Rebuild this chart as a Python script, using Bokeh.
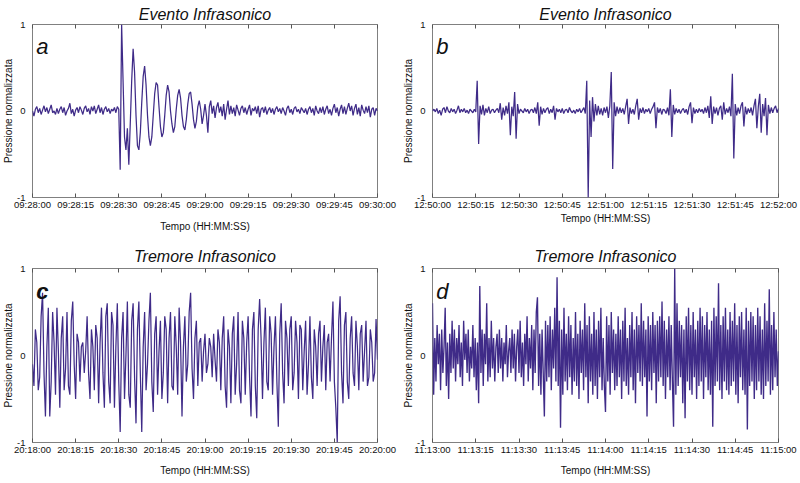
import numpy as np
from bokeh.plotting import figure
from bokeh.models import Range1d, FixedTicker, LinearAxis, Label
from bokeh.layouts import column, row
from bokeh.embed import file_html
from bokeh.resources import INLINE

# ---------------- data ----------------
SPAN_S = 120  # each record covers two minutes
x_ticks = [0, 15, 30, 45, 60, 75, 90, 105, 120]
labels_a = ["09:28:00", "09:28:15", "09:28:30", "09:28:45", "09:29:00",
            "09:29:15", "09:29:30", "09:29:45", "09:30:00"]
labels_b = ["12:50:00", "12:50:15", "12:50:30", "12:50:45", "12:51:00",
            "12:51:15", "12:51:30", "12:51:45", "12:52:00"]
labels_c = ["20:18:00", "20:18:15", "20:18:30", "20:18:45", "20:19:00",
            "20:19:15", "20:19:30", "20:19:45", "20:20:00"]
labels_d = ["11:13:00", "11:13:15", "11:13:30", "11:13:45", "11:14:00",
            "11:14:15", "11:14:30", "11:14:45", "11:15:00"]
y_ticks = [-1, 0, 1]
y_tick_labels = ["-1", "0", "1"]
titles = ["Evento Infrasonico", "Evento Infrasonico",
          "Tremore Infrasonico", "Tremore Infrasonico"]
letters = ["a", "b", "c", "d"]
x_axis_label = "Tempo (HH:MM:SS)"
y_axis_label = "Pressione normalizzata"

# normalised pressure, panel a (0.5 s steps)
pressure_a = [
    0.00, -0.06, 0.02, 0.05, -0.02, 0.03, -0.04, 0.01, 0.06, -0.01,
    0.04, -0.03, 0.02, 0.07, -0.02, 0.00, -0.04, 0.03, -0.03, 0.02,
    0.05, -0.02, 0.04, -0.05, 0.00, 0.03, 0.09, -0.03, 0.02, -0.06,
    0.01, 0.04, -0.02, 0.05, 0.01, -0.04, 0.03, 0.06, -0.01, 0.03,
    -0.04, 0.05, 0.00, 0.06, -0.03, 0.02, 0.07, -0.02, 0.04, -0.04,
    0.02, 0.05, -0.01, 0.03, -0.03, 0.02, 0.00, 0.04, -0.02, 0.05,
    0.02, -0.68, 1.00, 0.35, -0.30, -0.45, -0.20, -0.62, -0.15, 0.35,
    0.72, 0.45, -0.05, -0.40, -0.45, -0.25, 0.10, 0.40, 0.52, 0.30,
    -0.05, -0.30, -0.40, -0.30, -0.05, 0.20, 0.33, 0.30, 0.05, -0.18,
    -0.30, -0.25, -0.05, 0.18, 0.30, 0.22, 0.00, -0.15, -0.25, -0.18,
    0.02, 0.18, 0.25, 0.15, -0.05, -0.18, -0.22, -0.10, 0.08, 0.20,
    0.22, 0.08, -0.10, -0.20, -0.12, 0.05, 0.12, 0.02, -0.15, -0.05,
    0.08, -0.05, -0.25, 0.05, 0.12, -0.03, 0.06, -0.08, 0.04, 0.10,
    -0.02, 0.05, -0.06, 0.08, -0.10, 0.02, 0.12, -0.04, 0.06, -0.03,
    0.04, -0.06, 0.07, 0.01, -0.05, 0.03, 0.06, -0.02, 0.04, -0.04,
    0.02, 0.07, -0.05, 0.03, 0.00, 0.05, -0.03, 0.06, -0.07, 0.02,
    0.04, -0.02, 0.05, -0.04, 0.01, 0.04, -0.02, 0.03, -0.04, 0.02,
    0.05, -0.01, 0.03, -0.03, 0.04, 0.00, -0.05, 0.03, 0.06, -0.02,
    0.02, -0.04, 0.03, 0.05, -0.01, 0.02, -0.03, 0.04, 0.01, -0.02,
    0.03, -0.04, 0.02, 0.05, -0.02, 0.03, -0.05, 0.06, 0.00, -0.03,
    0.04, -0.02, 0.05, -0.04, 0.02, 0.06, -0.03, 0.02, -0.05, 0.03,
    0.08, -0.02, 0.04, -0.06, 0.02, 0.07, -0.03, 0.05, -0.04, 0.03,
    0.09, 0.00, 0.06, -0.05, 0.03, 0.08, -0.04, 0.04, -0.06, 0.07,
    0.01, -0.03, 0.05, -0.02, 0.06, -0.07, 0.02, 0.04, -0.05, 0.03,
    0.00,
]

# normalised pressure, panel b (0.5 s steps)
pressure_b = [
    0.00, 0.02, -0.01, 0.03, -0.03, 0.01, -0.05, 0.02, 0.04, -0.02,
    0.05, 0.00, -0.02, 0.03, -0.01, 0.02, -0.03, 0.01, 0.06, -0.02,
    0.02, -0.01, 0.03, -0.02, 0.01, -0.03, 0.02, 0.00, -0.02, 0.02,
    -0.01, 0.35, -0.38, 0.06, -0.04, 0.07, -0.05, 0.03, -0.02, 0.05,
    -0.03, 0.01, 0.02, -0.02, 0.01, 0.03, -0.02, 0.09, -0.10, 0.04,
    -0.05, 0.06, -0.03, 0.10, -0.28, 0.05, -0.06, 0.22, -0.32, 0.08,
    -0.03, 0.02, 0.00, -0.02, 0.03, -0.01, 0.02, -0.03, 0.01, 0.02,
    -0.02, 0.04, -0.03, 0.10, -0.17, 0.05, -0.04, 0.03, -0.02, 0.02,
    0.04, -0.03, 0.02, -0.02, 0.06, -0.10, 0.03, -0.01, 0.02, -0.02,
    0.03, -0.03, 0.01, 0.02, -0.02, 0.04, 0.00, -0.02, 0.01, -0.03,
    0.02, -0.01, 0.03, -0.02, 0.01, 0.04, -0.03, 0.35, -1.00, 0.12,
    -0.30, 0.16, -0.12, 0.08, -0.05, 0.06, -0.04, 0.03, -0.05, 0.04,
    -0.02, 0.05, -0.08, 0.06, 0.45, -0.67, 0.10, -0.06, 0.05, -0.03,
    0.04, -0.02, 0.03, -0.04, 0.05, 0.14, -0.15, 0.04, -0.03, 0.02,
    -0.04, 0.06, 0.14, -0.10, 0.03, -0.02, 0.04, -0.03, 0.02, -0.01,
    0.03, -0.03, 0.02, 0.05, 0.10, -0.20, 0.04, -0.02, 0.03, -0.04,
    0.02, 0.01, -0.03, 0.04, -0.05, 0.25, -0.30, 0.07, -0.04, 0.03,
    -0.02, 0.02, -0.03, 0.01, 0.03, -0.02, 0.02, -0.04, 0.05, 0.10,
    -0.14, 0.04, -0.03, 0.02, -0.02, 0.03, -0.01, 0.02, -0.03, 0.04,
    -0.02, 0.06, -0.08, 0.17, -0.15, 0.05, -0.03, 0.04, -0.05, 0.03,
    0.06, -0.10, 0.10, -0.04, 0.03, -0.02, 0.05, -0.06, 0.43, -0.55,
    0.08, -0.05, 0.04, -0.03, 0.06, 0.10, -0.18, 0.05, -0.04, 0.03,
    -0.02, 0.04, -0.05, 0.06, 0.14, -0.20, 0.05, 0.20, -0.25, 0.08,
    -0.06, 0.15, -0.28, 0.07, -0.03, 0.04, -0.02, 0.03, 0.06, -0.02,
    0.03,
]

# normalised pressure, panel c (0.5 s steps)
pressure_c = [
    -0.10, -0.35, 0.30, 0.15, -0.40, -0.25, 0.45, 0.72, -0.20, -0.70,
    0.10, 0.55, -0.70, -0.30, 0.50, 0.15, -0.45, 0.55, 0.05, -0.60,
    0.20, 0.45, -0.40, -0.15, 0.50, -0.35, -0.45, 0.40, 0.62, -0.10,
    -0.50, 0.25, 0.15, -0.30, 0.10, 0.15, -0.20, 0.05, 0.45, -0.20,
    -0.50, 0.30, 0.10, -0.40, 0.35, 0.20, -0.55, 0.15, 0.55, -0.20,
    -0.60, 0.45, 0.60, -0.30, -0.55, 0.50, 0.35, -0.60, 0.10, 0.60,
    -0.30, -0.88, 0.20, 0.50, -0.50, 0.00, 0.62, -0.45, -0.60, 0.40,
    0.60, -0.25, -0.78, 0.30, 0.62, -0.20, -0.88, 0.10, 0.50, -0.40,
    -0.10, 0.40, 0.72, -0.30, -0.65, 0.25, 0.45, -0.45, 0.05, 0.40,
    -0.50, -0.20, 0.45, 0.30, -0.55, 0.20, 0.50, -0.35, -0.40, 0.45,
    0.10, -0.45, 0.55, 0.15, -0.70, 0.10, 0.45, -0.30, -0.10, 0.50,
    0.72, -0.15, -0.50, 0.20, 0.40, -0.35, 0.15, 0.20, -0.30, 0.05,
    0.25, -0.20, -0.10, 0.20, 0.10, -0.25, 0.25, -0.05, -0.30, 0.30,
    0.15, -0.40, 0.20, 0.45, -0.35, -0.60, 0.30, 0.10, -0.55, 0.25,
    0.45, -0.45, -0.10, 0.50, -0.40, -0.55, 0.40, 0.20, -0.45, 0.15,
    0.45, -0.25, -0.70, 0.30, 0.50, -0.35, -0.72, 0.30, 0.65, 0.20,
    -0.50, 0.15, 0.55, -0.30, -0.40, 0.45, 0.25, -0.45, 0.10, 0.45,
    -0.30, -0.82, 0.25, 0.60, -0.20, -0.55, 0.40, 0.20, -0.35, 0.30,
    0.45, -0.40, -0.20, 0.40, 0.15, -0.50, 0.35, 0.30, -0.40, 0.05,
    0.40, -0.45, -0.10, 0.45, -0.25, -0.50, 0.30, 0.10, -0.35, 0.25,
    0.40, -0.30, 0.10, 0.35, -0.40, 0.15, 0.25, -0.30, 0.20, 0.62,
    -0.30, -0.60, -1.00, 0.40, 0.68, -0.20, -0.55, 0.35, 0.50, -0.30,
    -0.50, 0.20, 0.45, -0.20, -0.35, 0.40, 0.10, -0.40, 0.25, 0.35,
    -0.30, 0.05, 0.40, -0.35, -0.25, 0.30, 0.15, -0.30, -0.20, 0.42,
    -0.05,
]

# normalised pressure, panel d (0.4 s steps)
pressure_d = [
    0.60, -0.45, 0.20, -0.30, 0.35, -0.10, 0.25, -0.40, 0.30, -0.20,
    0.10, 0.55, -0.35, 0.15, -0.50, 0.25, -0.20, 0.40, -0.15, 0.30,
    -0.30, 0.20, -0.10, 0.35, -0.25, 0.15, -0.35, 0.40, -0.05, 0.25,
    -0.20, 0.30, -0.30, 0.10, -0.15, 0.35, -0.25, 0.20, -0.40, 0.15,
    -0.55, 0.80, -0.20, 0.30, -0.35, 0.25, -0.10, 0.60, -0.30, 0.20,
    -0.25, 0.40, -0.15, 0.20, -0.30, 0.10, 0.25, -0.20, 0.30, -0.15,
    0.20, -0.30, 0.15, -0.10, 0.35, -0.25, 0.05, 0.20, -0.20, 0.30,
    -0.15, 0.25, -0.30, 0.10, 0.30, -0.20, 0.40, -0.25, 0.15, -0.35,
    0.25, -0.10, 0.45, -0.30, 0.20, -0.15, 0.35, -0.40, 0.30, -0.20,
    0.50, 0.67, -0.35, 0.25, -0.45, 0.30, -0.20, -0.70, 0.40, -0.30,
    0.35, -0.25, 0.45, -0.40, 0.30, -0.15, 0.55, -0.30, 0.90, -0.35,
    0.40, -0.83, 0.30, -0.45, 0.55, -0.30, 0.25, -0.40, 0.45, -0.25,
    0.35, -0.45, 0.20, -0.30, 0.50, -0.35, 0.25, -0.50, 0.40, -0.20,
    0.30, -0.40, 0.60, -0.25, 0.35, -0.55, 0.45, -0.30, 0.25, -0.45,
    0.50, -0.35, 0.30, -0.50, 0.40, -0.25, 0.55, -0.40, 0.20, -0.35,
    -0.65, 0.45, -0.30, 0.35, -0.45, 0.50, -0.20, 0.30, -0.40, 0.25,
    -0.35, 0.45, -0.25, 0.30, -0.50, 0.40, -0.30, 0.55, -0.35, 0.20,
    -0.45, 0.35, -0.25, 0.50, -0.40, 0.30, -0.55, 0.45, -0.20, 0.35,
    -0.30, 0.60, -0.35, 0.40, -0.25, 0.30, -0.70, 0.45, -0.30, 0.35,
    -0.40, 0.50, -0.20, 0.35, -0.55, 0.40, -0.30, 0.45, -0.25, 0.62,
    -0.35, 0.40, -0.50, 0.30, -0.25, 0.45, -0.40, 0.35, -0.30, -0.82,
    1.00, -0.45, 0.60, -0.35, 0.40, -0.25, 0.35, -0.55, 0.30, -0.72,
    0.45, -0.30, 0.55, -0.40, 0.35, -0.45, 0.50, -0.25, 0.30, -0.50,
    0.40, -0.35, 0.55, -0.30, 0.45, -0.50, 0.35, -0.25, 0.50, -0.40,
    0.30, -0.45, 0.40, -0.82, 0.55, -0.35, 0.45, -0.30, 0.83, -0.40,
    0.35, -0.50, 0.45, -0.30, 0.55, -0.40, 0.30, -0.45, 0.50, -0.35,
    0.40, -0.30, 0.60, -0.45, 0.35, -0.55, 0.45, -0.25, 0.50, -0.40,
    0.30, -0.45, 0.55, -0.85, 0.40, -0.35, 0.50, -0.30, 0.45, -0.50,
    0.35, -0.40, 0.55, -0.30, 0.45, -0.45, 0.30, -0.50, 0.60, -0.35,
    0.40, -0.30, 0.76, -0.45, 0.35, -0.40, 0.50, -0.25, 0.30, -0.35,
    0.05,
]

# ---------------- styling ----------------
FONT = "Liberation Sans"
LINE_COLOR = "#3f2b88"
FRAME_COLOR = "#808080"
TICK_COLOR = "#555555"
TEXT_COLOR = "#111111"


def make_panel(values, tick_labels, title_text, letter, letter_style, lw,
               w, h, bl, br, bt, bb, xlabel_standoff, title_standoff):
    t = np.linspace(0, SPAN_S, len(values))
    p = figure(width=w, height=h, output_backend="svg", toolbar_location=None,
               x_range=Range1d(0, SPAN_S), y_range=Range1d(-1, 1),
               x_axis_type=None, y_axis_type=None,
               min_border_left=bl, min_border_right=br,
               min_border_top=bt, min_border_bottom=bb,
               title=title_text)
    p.title.text_font = FONT
    p.title.text_font_size = "16px"
    p.title.text_font_style = "italic"
    p.title.text_color = TEXT_COLOR
    p.title.align = "center"
    p.title.standoff = title_standoff
    p.outline_line_color = FRAME_COLOR
    p.outline_line_width = 1
    p.background_fill_color = "white"
    p.border_fill_color = "white"
    p.grid.visible = False

    xa = LinearAxis(ticker=FixedTicker(ticks=x_ticks, minor_ticks=[]),
                    major_label_overrides={tk: lb for tk, lb in zip(x_ticks, tick_labels)},
                    axis_label=x_axis_label)
    xa.axis_line_color = None
    xa.major_tick_in = 4
    xa.major_tick_out = 0
    xa.major_tick_line_color = TICK_COLOR
    xa.minor_tick_line_color = None
    xa.major_label_text_font = FONT
    xa.major_label_text_font_size = "9.5px"
    xa.major_label_text_color = TEXT_COLOR
    xa.major_label_standoff = 1
    xa.axis_label_text_font = FONT
    xa.axis_label_text_font_size = "10px"
    xa.axis_label_text_font_style = "normal"
    xa.axis_label_text_color = TEXT_COLOR
    xa.axis_label_standoff = xlabel_standoff
    p.add_layout(xa, "below")

    # mirrored inward ticks along the top of the box (no labels drawn)
    ta = LinearAxis(ticker=FixedTicker(ticks=x_ticks, minor_ticks=[]))
    ta.axis_line_color = None
    ta.major_tick_in = 4
    ta.major_tick_out = 0
    ta.major_tick_line_color = TICK_COLOR
    ta.minor_tick_line_color = None
    ta.major_label_text_font_size = "1px"
    ta.major_label_text_color = None
    ta.major_label_standoff = 0
    p.add_layout(ta, "above")

    ya = LinearAxis(ticker=FixedTicker(ticks=y_ticks, minor_ticks=[]),
                    major_label_overrides={tk: lb for tk, lb in zip(y_ticks, y_tick_labels)},
                    axis_label=y_axis_label)
    ya.axis_line_color = None
    ya.major_tick_line_color = None
    ya.minor_tick_line_color = None
    ya.major_label_text_font = FONT
    ya.major_label_text_font_size = "9.5px"
    ya.major_label_text_color = TEXT_COLOR
    ya.major_label_standoff = 1
    ya.axis_label_text_font = FONT
    ya.axis_label_text_font_size = "10px"
    ya.axis_label_text_font_style = "normal"
    ya.axis_label_text_color = TEXT_COLOR
    ya.axis_label_standoff = 0
    p.add_layout(ya, "left")

    p.line(t, values, line_color=LINE_COLOR, line_width=lw)

    p.add_layout(Label(x=1.3, y=0.74, text=letter, text_font=FONT,
                       text_font_size="22px", text_font_style=letter_style,
                       text_color=TEXT_COLOR, text_baseline="alphabetic"))
    return p


# the page is drawn from its top-left corner: figure pixels = picture pixels
pa = make_panel(pressure_a, labels_a, titles[0], letters[0], "italic", 1.25,
                400, 240, 29, 23, 24, 43, 8, 4)
pb = make_panel(pressure_b, labels_b, titles[1], letters[1], "italic", 1.25,
                400, 240, 31, 22, 24, 43, 0, 4)
pc = make_panel(pressure_c, labels_c, titles[2], letters[2], "bold italic", 1.25,
                400, 242, 29, 23, 28, 40, 7, 7)
pd = make_panel(pressure_d, labels_d, titles[3], letters[3], "italic", 1.35,
                400, 242, 29, 22, 28, 40, 7, 7)

layout = column(row(pa, pb), row(pc, pd))

open("out.html", "w").write(file_html(layout, INLINE))
